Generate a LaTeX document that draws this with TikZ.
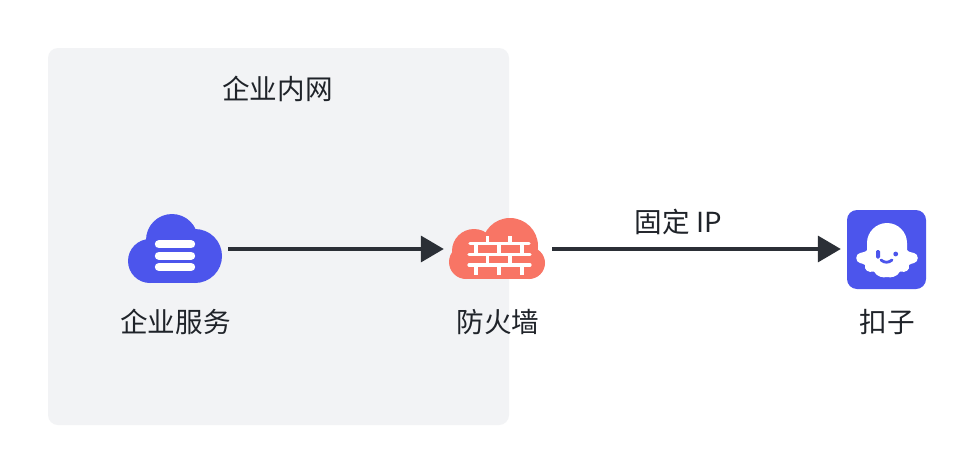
\documentclass[tikz,border=0pt]{standalone}
\usepackage{fontspec}
\setmainfont{Noto Sans CJK SC}
\usetikzlibrary{arrows.meta}
\definecolor{panelc}{HTML}{F2F3F5}
\definecolor{inkc}{HTML}{1F2329}
\definecolor{arrowc}{HTML}{2B2F36}
\definecolor{blueic}{HTML}{4C55EC}
\definecolor{redic}{HTML}{F87565}
\tikzset{
  lbl/.style={font=\fontsize{27.6}{32}\selectfont, text=inkc, inner sep=0pt},
  anchorbox/.style={rectangle, inner sep=0pt, minimum height=20pt},
  flow/.style={draw=arrowc, line width=3.6pt, -{Triangle[length=23pt,width=26pt]}},
  brickh/.style={draw=white, line width=3.2pt, line cap=round},
  brickv/.style={draw=white, line width=3.2pt, line cap=butt},
  barw/.style={draw=white, line width=8.4pt, line cap=round},
}
\begin{document}
\begin{tikzpicture}[x=1pt,y=-1pt]
\useasboundingbox (0,0) rectangle (976,474);
\fill[white] (0,0) rectangle (976,474);
\fill[panelc, rounded corners=10pt] (48,48) rectangle (509,425);
\node[lbl] (title) at (277.5,89) {企业内网};

% service cloud
\fill[blueic] (150,261) circle (22);
\fill[blueic] (172,240) circle (26);
\fill[blueic] (195,256) circle (27);
\fill[blueic] (150,250) rectangle (195,283);
\draw[barw] (159,244.2) -- (191,244.2);
\draw[barw] (159,255.8) -- (191,255.8);
\draw[barw] (159,267) -- (191,267);
\node[anchorbox, minimum width=100pt] (svc) at (178,249) {};
\node[lbl] (svclbl) at (175.5,322) {企业服务};

% firewall cloud
\fill[redic] (466,262) circle (17);
\fill[redic] (474,251) circle (22);
\fill[redic] (510,246) circle (28);
\fill[redic] (529,263) circle (16);
\fill[redic] (466,250) rectangle (529,279);
\draw[brickh] (470,243.5) -- (529,243.5);
\draw[brickh] (469,254.5) -- (530,254.5);
\draw[brickh] (469,265) -- (530,265);
\foreach \px in {487.5,510}{
  \draw[brickv] (\px,236) -- (\px,243);
  \draw[brickv] (\px,255) -- (\px,265);
}
\foreach \px in {476,499,522}{
  \draw[brickv] (\px,244) -- (\px,254);
  \draw[brickv] (\px,265) -- (\px,275);
}
\node[anchorbox, minimum width=108pt] (fw) at (498,249) {};
\node[lbl] (fwlbl) at (498,322) {防火墙};

% bot icon
\fill[blueic, rounded corners=10pt] (847,210) rectangle (926,289);
\fill[white] (867,250) -- (867,243)
  .. controls (867,232) and (876,223) .. (887,223)
  .. controls (898,223) and (907,232) .. (907,243)
  -- (907,250)
  .. controls (908,252) and (912,252.5) .. (914,253)
  .. controls (919,254) and (919,262) .. (914,263)
  .. controls (912,263.5) and (910,264) .. (909,265)
  .. controls (910,270) and (906,273) .. (900,271.5)
  .. controls (897,277) and (891,278) .. (887,277)
  .. controls (883,278) and (877,277) .. (874,271.5)
  .. controls (868,273) and (864,270) .. (865,265)
  .. controls (864,264) and (862,263.5) .. (860,263)
  .. controls (855,262) and (855,254) .. (860,253)
  .. controls (862,252.5) and (866,252) .. (867,250) -- cycle;
\fill[blueic, rounded corners=1.4pt] (876,250) rectangle (880,258.5);
\fill[blueic] (895.7,254) circle (2.4);
\draw[blueic, line width=2.8pt, line cap=round] (881,260) .. controls (884.5,263) and (888.5,263) .. (892,260);
\node[anchorbox, minimum width=91pt] (bot) at (886.5,249) {};
\node[lbl] (botlbl) at (887,322) {扣子};

% connectors
\draw[flow] (svc.east) -- (fw.west);
\draw[flow] (fw.east) -- node[lbl, pos=0.437, yshift=27pt] (edgelbl) {固定 IP} (bot.west);
\end{tikzpicture}
\end{document}
